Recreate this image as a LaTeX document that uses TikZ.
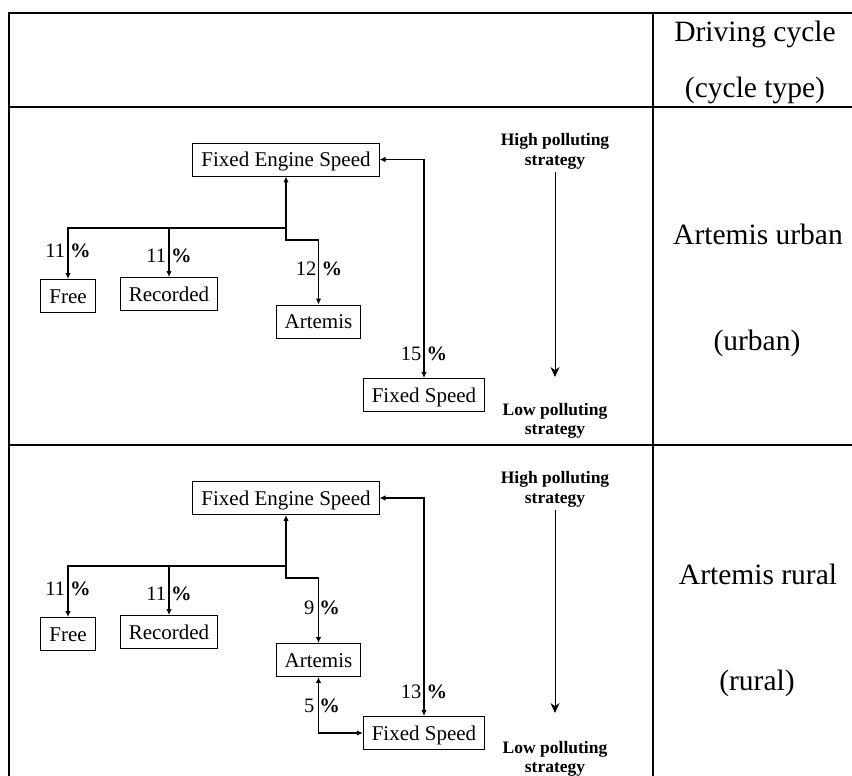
\documentclass[tikz,border=0pt]{standalone}
\usepackage{fontspec}
\setmainfont{Liberation Serif}
\usepackage{tikz}
\usetikzlibrary{arrows.meta}

\tikzset{
  box/.style={draw, line width=0.9pt, font=\fontsize{21}{24}\selectfont,
    inner xsep=8.5pt, inner ysep=7pt, text height=16.5pt, text depth=2.5pt},
  pct/.style={font=\fontsize{20.5}{22}\selectfont, inner sep=0pt},
  arr/.style={line width=1.5pt, -{Latex[length=6pt,width=5.5pt]}},
  dbl/.style={line width=1.5pt, {Latex[length=6pt,width=5.5pt]}-{Latex[length=6pt,width=5.5pt]}},
  strat/.style={font=\bfseries\fontsize{17.5}{19.5}\selectfont, align=center, inner sep=0pt},
  stratarrow/.style={line width=1pt, -{Stealth[length=10pt,width=9pt]}},
  cyclelabel/.style={font=\fontsize{29.5}{32}\selectfont, anchor=base, inner sep=0pt},
  tablerule/.style={line width=1.6pt}
}

\begin{document}
\begin{tikzpicture}[x=1pt,y=-1pt]
  \useasboundingbox (0,0) rectangle (852,776);

  %%%%% table %%%%%
  \draw[tablerule] (852,13) -- (9,13) -- (9,776);
  \draw[tablerule] (9,107) -- (852,107);
  \draw[tablerule] (9,445) -- (852,445);
  \draw[tablerule] (653,13) -- (653,776);

  \node[cyclelabel] (dc) at (755,42) {Driving cycle};
  \node[cyclelabel] (ct) at (755,97) {(cycle type)};
  \node[cyclelabel] (au) at (758,244) {Artemis urban};
  \node[cyclelabel] (ub) at (757,350) {(urban)};
  \node[cyclelabel] (ar) at (758,584) {Artemis rural};
  \node[cyclelabel] (rr) at (757,690) {(rural)};

  %%%%% urban %%%%%
  \node[box] (fes1) at (286,159.5) {Fixed Engine Speed};
  \node[box] (free1) at (68,296) {Free};
  \node[box] (rec1) at (169,294) {Recorded};
  \node[box] (art1) at (318.5,321.5) {Artemis};
  \node[box] (fs1) at (424,395) {Fixed Speed};

  \coordinate (j1) at (286,228);
  \draw[arr] (j1) -- (fes1.south);
  \draw[arr] (j1) -| (free1.north);
  \draw[arr] (j1 -| rec1.north) -- (rec1.north);
  \draw[arr] (j1) -- ++(0,12) -| (art1.north);
  \draw[dbl] (fes1.east) -| (fs1.north);

  \node[pct] (p11) at (68,251) {11 \textbf{\%}};
  \node[pct] (p12) at (169,256) {11 \textbf{\%}};
  \node[pct] (p13) at (319,269) {12 \textbf{\%}};
  \node[pct] (p14) at (424,354) {15 \textbf{\%}};

  \node[strat] (hi1) at (555,151.5) {High polluting\\strategy};
  \coordinate (e1) at (555,377);
  \draw[stratarrow] ([yshift=-3pt]hi1.south) -- (e1);
  \node[strat] (lo1) at (555,421) {Low polluting\\strategy};

  %%%%% rural %%%%%
  \node[box] (fes2) at (286,498) {Fixed Engine Speed};
  \node[box] (free2) at (68,634) {Free};
  \node[box] (rec2) at (169,632) {Recorded};
  \node[box] (art2) at (318.5,660) {Artemis};
  \node[box] (fs2) at (424,733) {Fixed Speed};

  \coordinate (j2) at (286,566);
  \draw[arr] (j2) -- (fes2.south);
  \draw[arr] (j2) -| (free2.north);
  \draw[arr] (j2 -| rec2.north) -- (rec2.north);
  \draw[arr] (j2) -- ++(0,12) -| (art2.north);
  \draw[dbl] (fes2.east) -| (fs2.north);
  \draw[dbl] (art2.south) |- (fs2.west);

  \node[pct] (p21) at (68,589) {11 \textbf{\%}};
  \node[pct] (p22) at (169,594) {11 \textbf{\%}};
  \node[pct] (p23) at (322,608) {9 \textbf{\%}};
  \node[pct] (p24) at (424,692) {13 \textbf{\%}};
  \node[pct] (p25) at (322,706) {5 \textbf{\%}};

  \node[strat] (hi2) at (555,489.5) {High polluting\\strategy};
  \coordinate (e2) at (555,713);
  \draw[stratarrow] ([yshift=-3pt]hi2.south) -- (e2);
  \node[strat] (lo2) at (555,759) {Low polluting\\strategy};
\end{tikzpicture}
\end{document}
